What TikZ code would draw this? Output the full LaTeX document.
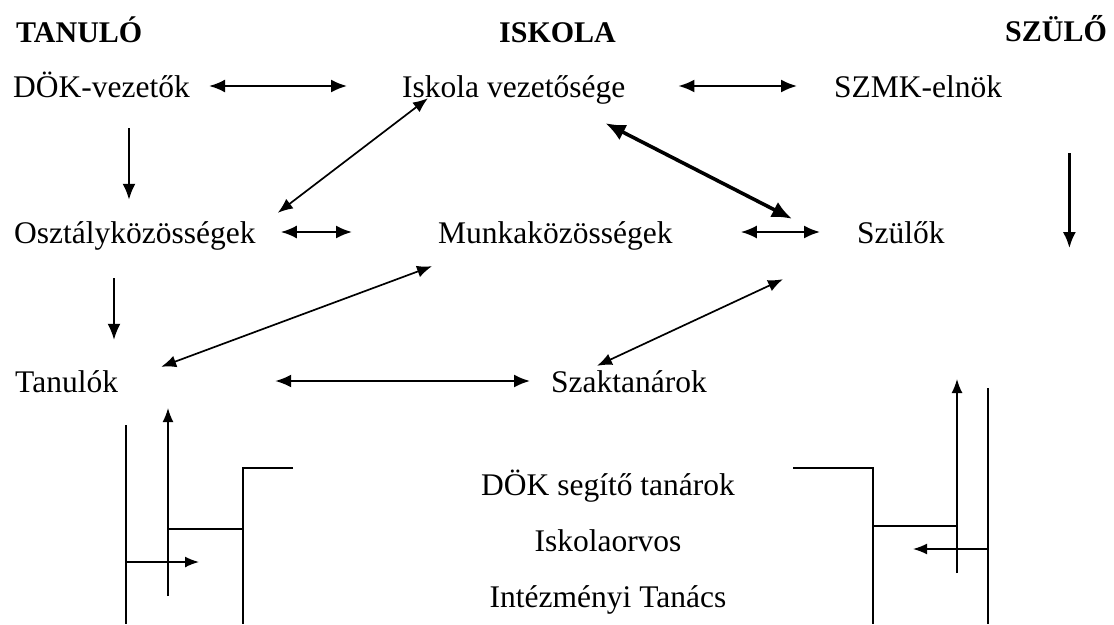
\documentclass[tikz,border=0pt]{standalone}
\usepackage{fontspec}
\setmainfont{Liberation Serif}
\usepackage{tikz}
\usetikzlibrary{arrows.meta}

\begin{document}
\begin{tikzpicture}[x=1pt, y=-1pt,
    lbl/.style={inner sep=0pt, anchor=base west, text height=27pt, text depth=5pt, font=\fontsize{31.5}{36}\selectfont},
    head/.style={inner sep=0pt, anchor=base west, font=\fontsize{30}{34}\selectfont\bfseries},
    mid/.style={inner sep=0pt, anchor=base, font=\fontsize{31.5}{36}\selectfont},
    link/.style={line width=2pt, {Latex[length=16pt,width=13pt]}-{Latex[length=16pt,width=13pt]}},
    slant/.style={line width=1.7pt, {Latex[length=15pt,width=12pt]}-{Latex[length=15pt,width=12pt]}},
    down/.style={line width=2.2pt, -{Latex[length=16pt,width=13pt]}},
    heavy/.style={line width=3.6pt, {Latex[length=20pt,width=17pt]}-{Latex[length=20pt,width=17pt]}},
    rule/.style={line width=1.6pt},
    tip/.style={line width=1.6pt, -{Latex[length=14pt,width=11pt]}}]
    \useasboundingbox (0,0) rectangle (1114,624);
    % column heads
    \node[head] (tanulo) at (16,42) {TANULÓ};
    \node[head] (iskola) at (499,42) {ISKOLA};
    \node[head] (szulo) at (1005,41) {SZÜLŐ};
    \node[lbl] (dok) at (13,97) {DÖK-vezetők};
    \node[lbl] (isk) at (402,97) {Iskola vezetősége};
    \node[lbl] (szmk) at (834,97) {SZMK-elnök};
    \node[lbl] (osz) at (14,243) {Osztályközösségek};
    \node[lbl] (munka) at (438,243) {Munkaközösségek};
    \node[lbl] (szul) at (857,243) {Szülők};
    \node[lbl] (tan) at (15,392) {Tanulók};
    \node[lbl] (szak) at (551,392) {Szaktanárok};
    \node[mid] (segito) at (608,495) {DÖK segítő tanárok};
    \node[mid] (orvos) at (608,551) {Iskolaorvos};
    \node[mid] (tanacs) at (608,607) {Intézményi Tanács};
    % links
    \draw[link, shorten <=19pt, shorten >=55pt] (dok) -- (isk);
    \draw[link, shorten <=53pt, shorten >=37pt] (isk) -- (szmk);
    \draw[link, shorten <=25pt, shorten >=86pt] (osz) -- (munka);
    \draw[link, shorten <=68pt, shorten >=37pt] (munka) -- (szul);
    \draw[link, shorten <=157pt, shorten >=21pt] (tan) -- (szak);
    \draw[down] ([shift={(116,26)}]dok.south west) -- ([shift={(115,-16)}]osz.north west);
    \draw[down, line width=1.8pt] ([shift={(100,30)}]osz.south west) -- ([shift={(99,-25)}]tan.north west);
    \draw[down, line width=2.8pt] ([shift={(67,51)}]szmk.south east) -- ([shift={(67,146)}]szmk.south east);
    \draw[slant] ([shift={(26,-4)}]isk.south west) -- ([shift={(22,-3)}]osz.north east);
    \draw[heavy] ([shift={(-20,21)}]isk.south east) -- ([shift={(-65,3)}]szul.north west);
    \draw[slant] ([shift={(-6,18)}]munka.south west) -- ([shift={(43,2)}]tan.north east);
    \draw[slant] ([shift={(-74,31)}]szul.south west) -- ([shift={(46,1)}]szak.north west);
    % left bracket
    \draw[rule] (126,425) -- (126,624);
    \draw[tip] (168,596) -- (168,408);
    \draw[tip] (126,562) -- (199,562);
    \draw[rule] (168,529) -- (243,529);
    \draw[rule] (293,468) -- (243,468) -- (243,624);
    % right bracket
    \draw[rule] (793,468) -- (873,468) -- (873,624);
    \draw[rule] (873,526) -- (957,526);
    \draw[tip] (957,573) -- (957,379);
    \draw[rule] (988,388) -- (988,624);
    \draw[tip] (988,549) -- (913,549);
\end{tikzpicture}
\end{document}
